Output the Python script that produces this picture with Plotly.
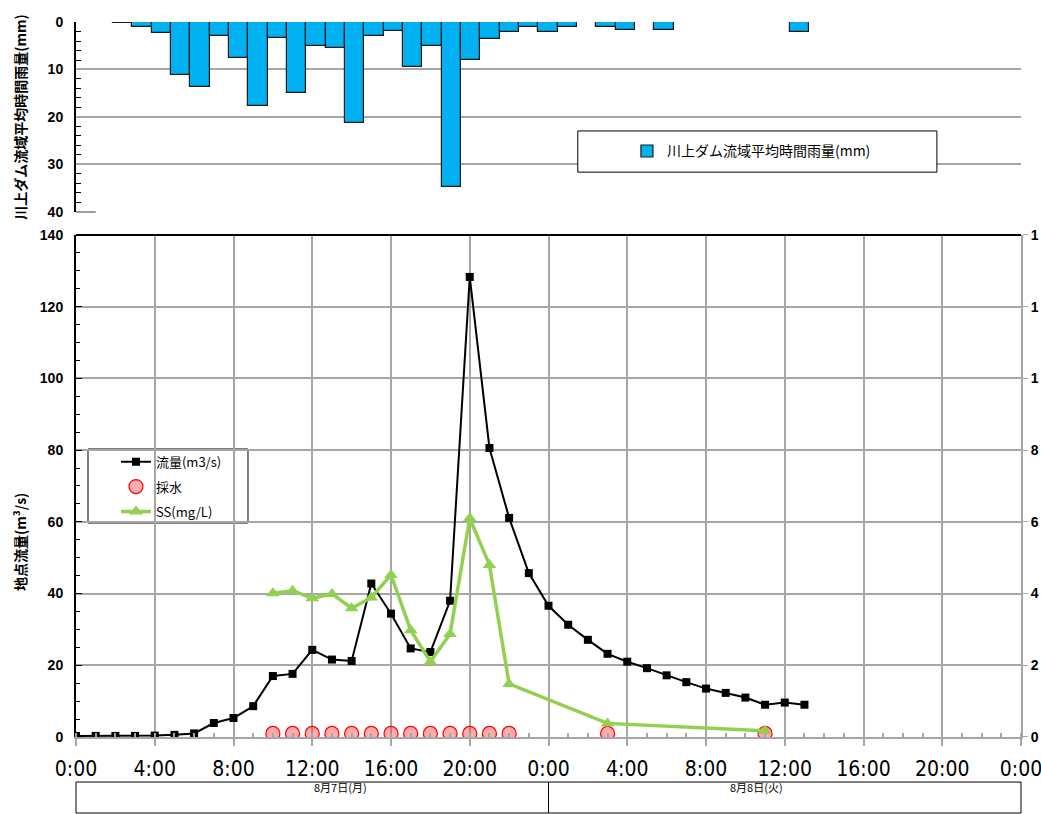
import plotly.graph_objects as go

# ---------------- data ----------------
# hourly rainfall (mm), bar k covers the hour starting at rain_hours[k]
rain_hours = [2, 3, 4, 5, 6, 7, 8, 9, 10, 11, 12, 13, 14, 15, 16, 17, 18, 19,
              20, 21, 22, 23, 24, 25, 26, 27, 28, 29, 30, 31, 32, 33, 34, 35, 36, 37]
rain_mm = [0.3, 1.0, 2.4, 11.1, 13.7, 2.9, 7.5, 17.7, 3.4, 15.0, 5.0, 5.5, 21.2, 2.9,
           1.9, 9.4, 5.0, 34.7, 8.1, 3.5, 2.1, 1.1, 2.1, 1.1, 0.0, 1.1, 1.6, 0.0, 1.6,
           0.0, 0.0, 0.0, 0.0, 0.0, 0.0, 2.1]

# flow (m3/s) at hours from 8/7 0:00
flow_hours = [0, 1, 2, 3, 4, 5, 6, 7, 8, 9, 10, 11, 12, 13, 14, 15, 16, 17, 18, 19,
              20, 21, 22, 23, 24, 25, 26, 27, 28, 29, 30, 31, 32, 33, 34, 35, 36, 37]
flow = [0.3, 0.3, 0.3, 0.3, 0.4, 0.6, 1.0, 3.9, 5.3, 8.6, 17.0, 17.6, 24.3, 21.6, 21.2,
        42.8, 34.4, 24.7, 23.7, 38.0, 128.3, 80.6, 61.1, 45.7, 36.6, 31.3, 27.1, 23.2,
        21.0, 19.2, 17.2, 15.3, 13.5, 12.3, 11.0, 9.0, 9.6, 9.0]

# sampling times and their marker level (flow axis)
sample_hours = [10, 11, 12, 13, 14, 15, 16, 17, 18, 19, 20, 21, 22, 27, 35]
sample_level = [1, 1, 1, 1, 1, 1, 1, 1, 1, 1, 1, 1, 1, 1, 1]

# SS (mg/L)
ss_hours = [10, 11, 12, 13, 14, 15, 16, 17, 18, 19, 20, 21, 22, 27, 35]
ss = [4.01, 4.08, 3.87, 3.99, 3.59, 3.89, 4.52, 2.98, 2.10, 2.87, 6.1, 4.8, 1.48, 0.38, 0.17]

x_tickvals = [0, 4, 8, 12, 16, 20, 24, 28, 32, 36, 40, 44, 48]
x_ticktext = ["0:00", "4:00", "8:00", "12:00", "16:00", "20:00", "0:00",
              "4:00", "8:00", "12:00", "16:00", "20:00", "0:00"]
right_tickvals = [0, 2, 4, 6, 8, 10, 12, 14]
right_ticktext = ["0", "2", "4", "6", "8", "1", "1", "1"]

day_labels = ["8月7日(月)", "8月8日(火)"]
day_start = [0, 24]
day_end = [24, 48]
X_SPAN = 48.0

flow_title = "地点流量(m³/s)"
rain_title = "川上ダム流域平均時間雨量(mm)"

# ---------------- style ----------------
GRID = "#A6A6A6"
JP = "Noto Sans CJK JP"
NUM = "Liberation Sans, Arial, sans-serif"
NARROW = "Liberation Sans Narrow, DejaVu Sans Condensed, sans-serif"

fig = go.Figure()

fig.add_trace(go.Bar(
    x=[h + 0.5 for h in rain_hours], y=rain_mm, width=1.0,
    xaxis="x3", yaxis="y2",
    marker=dict(color="#00B0F0", line=dict(color="#1A1A1A", width=1.2)),
    name=rain_title, legend="legend2",
))

fig.add_trace(go.Scatter(
    x=flow_hours, y=flow, mode="lines+markers", name="流量(m3/s)",
    line=dict(color="#000000", width=2),
    marker=dict(symbol="square", size=8, color="#000000"),
    legendgroup="a",
))
fig.add_trace(go.Scatter(
    x=sample_hours, y=sample_level, mode="markers", name="採水",
    marker=dict(symbol="circle", size=14, color="rgba(255,70,70,0.45)",
                line=dict(color="#FF0000", width=1.2)),
    legendgroup="b",
))
fig.add_trace(go.Scatter(
    x=ss_hours, y=ss, mode="lines+markers", name="SS(mg/L)", yaxis="y3",
    line=dict(color="#92D050", width=3.5),
    marker=dict(symbol="triangle-up", size=12, color="#92D050"),
    legendgroup="c",
))

shapes = []
# top frame line of the lower chart
shapes.append(dict(type="line", xref="x domain", yref="y domain", x0=0, x1=1, y0=1, y1=1,
                   line=dict(color="#000000", width=2)))
# bottom frame line of the rain chart
shapes.append(dict(type="line", xref="x2 domain", yref="y2 domain", x0=0, x1=1, y0=0, y1=0,
                   line=dict(color="#7F7F7F", width=1.5)))
# legend boxes
shapes.append(dict(type="rect", xref="paper", yref="paper", x0=0.0127, x1=0.182,
                   y0=0.2993, y1=0.4028, line=dict(color="#000000", width=1),
                   fillcolor="rgba(255,255,255,1)", layer="below"))
shapes.append(dict(type="rect", xref="paper", yref="paper", x0=0.531, x1=0.911,
                   y0=0.790, y1=0.8476, line=dict(color="#000000", width=1),
                   fillcolor="rgba(255,255,255,1)", layer="above"))
annotations = []
for lab, s, e in zip(day_labels, day_start, day_end):
    shapes.append(dict(type="rect", xref="paper", yref="paper", x0=s / X_SPAN, x1=e / X_SPAN,
                       y0=-0.1063, y1=-0.063, line=dict(color="#000000", width=1)))
    annotations.append(dict(x=(s + e) / 2 / X_SPAN, y=-0.0846, xref="paper", yref="paper",
                            text=lab, showarrow=False,
                            font=dict(family=JP, size=11, color="#000000")))
# flow axis title (placed lower than the axis centre, as in the original)
annotations.append(dict(x=-0.0593, y=0.2727, xref="paper", yref="paper", text=flow_title,
                        textangle=-90, showarrow=False, xanchor="center", yanchor="middle",
                        font=dict(family=JP, size=14, color="#000000", weight="bold")))

fig.update_layout(
    width=1041, height=814,
    margin=dict(l=76, r=20, t=22, b=77, autoexpand=False),
    plot_bgcolor="white", paper_bgcolor="white",
    showlegend=True,
    bargap=0,
    shapes=shapes, annotations=annotations,
    legend=dict(x=0.0423, y=0.406, xanchor="left", yanchor="top",
                bgcolor="rgba(0,0,0,0)", borderwidth=0, tracegroupgap=5,
                font=dict(family=JP, size=13, color="#000000")),
    legend2=dict(x=0.583, y=0.819, xanchor="left", yanchor="middle",
                 bgcolor="rgba(0,0,0,0)", borderwidth=0,
                 font=dict(family=JP, size=14, color="#000000")),
    xaxis=dict(domain=[0, 1], anchor="y", range=[0, X_SPAN], automargin=False,
               tickmode="array", tickvals=x_tickvals, ticktext=x_ticktext,
               ticks="outside", ticklen=7, tickcolor=GRID, tickwidth=1.5,
               showline=True, linecolor=GRID, linewidth=2,
               showgrid=True, gridcolor=GRID, gridwidth=1.5, zeroline=False,
               tickfont=dict(family=NARROW, size=21, color="#000000"),
               ticklabelstandoff=5, ticklabeloverflow="allow",
               minor=dict(dtick=1, ticks="inside", ticklen=4, tickcolor=GRID,
                          showgrid=False)),
    yaxis=dict(domain=[0, 0.7021], anchor="x", range=[0, 140], automargin=False,
               tickmode="linear", tick0=0, dtick=20,
               ticks="inside", ticklen=6, tickcolor="#000000",
               showline=True, linecolor="#000000", linewidth=2,
               showgrid=True, gridcolor=GRID, gridwidth=1.5, zeroline=False,
               tickfont=dict(family=NUM, size=14, color="#000000", weight="bold"),
               ticklabelstandoff=8,
               minor=dict(dtick=5, ticks="inside", ticklen=4, tickcolor="#000000",
                          showgrid=False)),
    yaxis3=dict(overlaying="y", side="right", anchor="x", range=[0, 14], automargin=False,
                tickmode="array", tickvals=right_tickvals, ticktext=right_ticktext,
                ticks="outside", ticklen=5, tickcolor=GRID,
                showline=True, linecolor=GRID, linewidth=2,
                showgrid=False, zeroline=False, ticklabeloverflow="allow",
                tickfont=dict(family=NUM, size=14, color="#000000", weight="bold")),
    xaxis2=dict(domain=[0, 1], anchor="y2", range=[0, X_SPAN], side="top", automargin=False,
                tickmode="array", tickvals=x_tickvals, showticklabels=False,
                ticks="", showline=True, linecolor="#000000", linewidth=2.5,
                showgrid=True, gridcolor=GRID, gridwidth=1.5, zeroline=False,
                minor=dict(dtick=1, ticks="inside", ticklen=5, tickcolor="#000000",
                           showgrid=False)),
    xaxis3=dict(overlaying="x2", anchor="y2", range=[0.086, 48.97], visible=False,
                automargin=False),
    yaxis2=dict(domain=[0.7343, 1], anchor="x2", range=[40, 0], automargin=False,
                tickmode="linear", tick0=0, dtick=10,
                ticks="", showline=True, linecolor="#000000", linewidth=2,
                showgrid=True, gridcolor=GRID, gridwidth=1.5, zeroline=False,
                tickfont=dict(family=NUM, size=14, color="#000000", weight="bold"),
                ticklabelstandoff=8, ticklabeloverflow="allow",
                minor=dict(dtick=2, ticks="inside", ticklen=5, tickcolor="#000000",
                           showgrid=False),
                title=dict(text=rain_title, standoff=18,
                           font=dict(family=JP, size=14, color="#000000", weight="bold"))),
)

fig.write_html("out.html", config={"displayModeBar": False},
               post_script="document.body.style.margin='0';")
